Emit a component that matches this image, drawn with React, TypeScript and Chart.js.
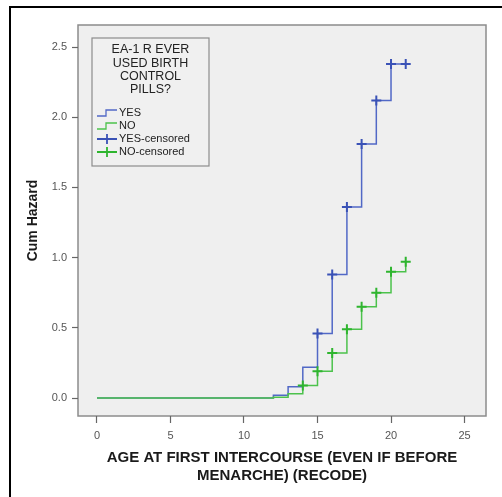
import React, { useEffect, useRef } from "react";
import { Chart, registerables } from "chart.js";

Chart.register(...registerables);

const ages = [0, 12, 13, 14, 15, 16, 17, 18, 19, 20, 21];
const yesHazard = [0, 0.02, 0.08, 0.22, 0.46, 0.88, 1.36, 1.81, 2.12, 2.38, 2.38];
const noHazard = [0, 0.005, 0.03, 0.09, 0.19, 0.32, 0.49, 0.65, 0.75, 0.9, 0.97];
const yesCensoredAges = [15, 16, 17, 18, 19, 20, 21];
const yesCensoredHazard = [0.46, 0.88, 1.36, 1.81, 2.12, 2.38, 2.38];
const noCensoredAges = [14, 15, 16, 17, 18, 19, 20, 21];
const noCensoredHazard = [0.09, 0.19, 0.32, 0.49, 0.65, 0.75, 0.9, 0.97];
const xTicks = [0, 5, 10, 15, 20, 25];
const yTicks = [0, 0.5, 1.0, 1.5, 2.0, 2.5];
const legendTitle = ["EA-1 R EVER", "USED BIRTH", "CONTROL", "PILLS?"];
const xTitle = ["AGE AT FIRST INTERCOURSE (EVEN IF BEFORE", "MENARCHE) (RECODE)"];
const yTitle = "Cum Hazard";

const BLUE_LINE = "#5168c6";
const BLUE_MARK = "#3a52b6";
const GREEN_LINE = "#4cc24c";
const GREEN_MARK = "#2fb52f";
const FONT = "'Liberation Sans', Arial, sans-serif";

const pts = (xs: number[], ys: number[]) => xs.map((x, i) => ({ x, y: ys[i] }));

const framePlugin = {
  id: "frame",
  beforeDraw(chart: any) {
    const { ctx, chartArea: a } = chart;
    ctx.save();
    ctx.fillStyle = "#ffffff";
    ctx.fillRect(0, 0, chart.width, chart.height);
    ctx.strokeStyle = "#000";
    ctx.lineWidth = 2;
    ctx.strokeRect(10, 7, 700, 700);
    ctx.fillStyle = "#efefef";
    ctx.fillRect(a.left, a.top, a.right - a.left, a.bottom - a.top);
    ctx.strokeStyle = "#8c8c8c";
    ctx.lineWidth = 1.5;
    ctx.strokeRect(a.left, a.top, a.right - a.left, a.bottom - a.top);
    ctx.restore();
  },
  afterDraw(chart: any) {
    const { ctx } = chart;
    const bx = 92, by = 38, bw = 117, bh = 128;
    ctx.save();
    ctx.fillStyle = "#f0f0f0";
    ctx.fillRect(bx, by, bw, bh);
    ctx.strokeStyle = "#8c8c8c";
    ctx.lineWidth = 1.2;
    ctx.strokeRect(bx, by, bw, bh);
    ctx.fillStyle = "#222";
    ctx.font = `12.5px ${FONT}`;
    ctx.textAlign = "center";
    ctx.textBaseline = "middle";
    legendTitle.forEach((t, i) => ctx.fillText(t, bx + bw / 2, 50 + i * 13.3));
    ctx.font = `11px ${FONT}`;
    ctx.textAlign = "left";
    const ds = chart.data.datasets;
    ds.forEach((d: any, i: number) => {
      const y = 113 + i * 13;
      ctx.strokeStyle = d.borderColor;
      ctx.lineWidth = 1.3;
      ctx.beginPath();
      if (i < 2) {
        ctx.moveTo(97, y + 3);
        ctx.lineTo(106, y + 3);
        ctx.lineTo(106, y - 3);
        ctx.lineTo(117, y - 3);
      } else {
        ctx.lineWidth = 1.8;
        ctx.moveTo(97, y);
        ctx.lineTo(117, y);
        ctx.moveTo(107, y - 5);
        ctx.lineTo(107, y + 5);
      }
      ctx.stroke();
      ctx.fillStyle = "#222";
      ctx.fillText(d.label, 119, y);
    });
    ctx.restore();
  },
};

export default function App() {
  const ref = useRef<HTMLCanvasElement>(null);
  useEffect(() => {
    if (!ref.current) return;
    const chart = new Chart(ref.current, {
      type: "line",
      data: {
        datasets: [
          {
            label: "YES",
            data: pts(ages, yesHazard),
            stepped: "before",
            borderColor: BLUE_LINE,
            borderWidth: 1.5,
            pointRadius: 0,
            fill: false,
            order: 3,
          },
          {
            label: "NO",
            data: pts(ages, noHazard),
            stepped: "before",
            borderColor: GREEN_LINE,
            borderWidth: 1.5,
            pointRadius: 0,
            fill: false,
            order: 2,
          },
          {
            label: "YES-censored",
            data: pts(yesCensoredAges, yesCensoredHazard),
            showLine: false,
            borderColor: BLUE_MARK,
            pointStyle: "cross",
            pointRadius: 5,
            pointBorderWidth: 2,
            pointBorderColor: BLUE_MARK,
            order: 1,
          },
          {
            label: "NO-censored",
            data: pts(noCensoredAges, noCensoredHazard),
            showLine: false,
            borderColor: GREEN_MARK,
            pointStyle: "cross",
            pointRadius: 5,
            pointBorderWidth: 2,
            pointBorderColor: GREEN_MARK,
            order: 0,
          },
        ],
      } as any,
      options: {
        animation: false,
        responsive: false,
        layout: { padding: { left: 0, top: 25, right: 16, bottom: 0 } },
        plugins: { legend: { display: false }, tooltip: { enabled: false } },
        scales: {
          x: {
            type: "linear",
            min: -1.29,
            max: 26.46,
            afterFit: (s: any) => {
              s.height = 81;
            },
            afterBuildTicks: (s: any) => {
              s.ticks = xTicks.map((v) => ({ value: v }));
            },
            ticks: {
              font: { family: FONT, size: 11 },
              color: "#555",
              padding: 6,
              maxRotation: 0,
              callback: (v: any) => String(v),
            },
            grid: { drawOnChartArea: false, tickLength: 7, tickColor: "#666", tickWidth: 1.2 },
            border: { display: false },
            title: {
              display: true,
              text: xTitle,
              font: { family: FONT, size: 15, weight: "bold" },
              color: "#1a1a1a",
              padding: { top: 0, bottom: 12 },
            },
          },
          y: {
            type: "linear",
            min: -0.128,
            max: 2.657,
            afterFit: (s: any) => {
              s.width = 78;
            },
            afterBuildTicks: (s: any) => {
              s.ticks = yTicks.map((v) => ({ value: v }));
            },
            ticks: {
              font: { family: FONT, size: 11 },
              color: "#555",
              padding: 5,
              callback: (v: any) => Number(v).toFixed(1),
            },
            grid: { drawOnChartArea: false, tickLength: 6, tickColor: "#666", tickWidth: 1.2 },
            border: { display: false },
            title: {
              display: true,
              text: yTitle,
              font: { family: FONT, size: 14, weight: "bold" },
              color: "#1a1a1a",
              padding: { top: 25, bottom: 0 },
            },
          },
        },
      } as any,
      plugins: [framePlugin],
    });
    return () => chart.destroy();
  }, []);
  return (
    <div style={{ position: "absolute", left: 0, top: 0, width: 502, height: 497, background: "#fff" }}>
      <canvas ref={ref} width={502} height={497} style={{ display: "block" }} />
    </div>
  );
}
